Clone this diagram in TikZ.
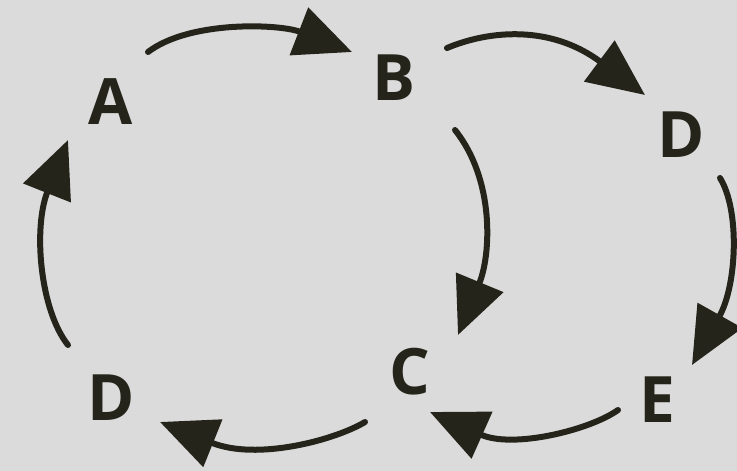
\documentclass[tikz,border=0pt]{standalone}
\usepackage{fontspec}
\setmainfont{Open Sans}
\usetikzlibrary{arrows.meta}
\definecolor{ink}{HTML}{25241A}
\definecolor{bg}{HTML}{DBDBDB}
\begin{document}
\begin{tikzpicture}[x=1pt,y=-1pt,
  letter/.style={inner sep=0pt,text=ink,font=\fontsize{64}{64}\selectfont\bfseries},
  conn/.style={draw=ink,line width=6pt,line cap=round,
    -{Triangle[length=57pt,width=50pt]},fill=none}]
\fill[bg] (0,0) rectangle (737,471);
\useasboundingbox (0,0) rectangle (737,471);
% letters
\node[letter] (A)  at (111,102) {A};
\node[letter] (B)  at (394,78)  {B};
\node[letter] (D1) at (681,135) {D};
\node[letter] (D2) at (111,398) {D};
\node[letter] (C)  at (410,372) {C};
\node[letter] (E)  at (657,400) {E};
% connector ends
\coordinate (ab1) at (148,52);  \coordinate (ab2) at (352,52);
\coordinate (bd1) at (447,48);  \coordinate (bd2) at (645,95);
\coordinate (bc1) at (455,130); \coordinate (bc2) at (458,335);
\coordinate (de1) at (720,178); \coordinate (de2) at (692,365);
\coordinate (ec1) at (618,410); \coordinate (ec2) at (430,412);
\coordinate (cd1) at (365,422); \coordinate (cd2) at (160,422);
\coordinate (da1) at (68,345);  \coordinate (da2) at (68,140);
% connectors
\draw[conn] (ab1) .. controls (190,20) and (280,24) .. (ab2);
\draw[conn] (bd1) .. controls (490,30) and (551,25) .. (bd2);
\draw[conn] (bc1) .. controls (495,180) and (491,255) .. (bc2);
\draw[conn] (de1) .. controls (740,210) and (737,285) .. (de2);
\draw[conn] (ec1) .. controls (590,430) and (513,449) .. (ec2);
\draw[conn] (cd1) .. controls (335,440) and (257,461) .. (cd2);
\draw[conn] (da1) .. controls (40,310) and (33,228) .. (da2);
\end{tikzpicture}
\end{document}
